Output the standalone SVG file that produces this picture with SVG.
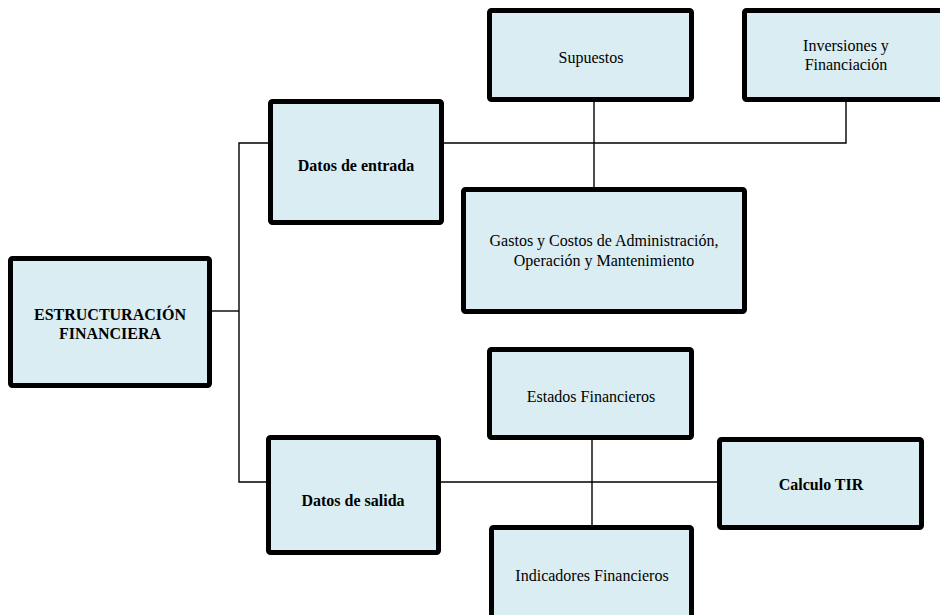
<svg xmlns="http://www.w3.org/2000/svg" width="940" height="615" viewBox="0 0 940 615">
<style>
.box{fill:#DAEDF3;stroke:#000;stroke-width:5;stroke-linejoin:round}
.t{font-family:"Liberation Serif","Times New Roman",serif;font-size:16px;fill:#000;text-anchor:middle}
.b{font-weight:bold}
.c{fill:none;stroke:#000;stroke-width:1.4}
</style>
<rect width="940" height="615" fill="#fff"/>
<g id="connectors">
<polyline class="c" points="212,311 239,311"/>
<polyline class="c" points="268,143 239,143 239,482 266,482"/>
<polyline class="c" points="444,143 846,143 846,102"/>
<line class="c" x1="594" y1="102" x2="594" y2="187"/>
<line class="c" x1="441" y1="482" x2="717" y2="482"/>
<line class="c" x1="592" y1="440" x2="592" y2="525"/>
</g>
<g id="estructuracion">
<rect class="box" x="10.5" y="258.5" width="199" height="127" rx="2"/>
<text class="t b" x="110" y="320">ESTRUCTURACIÓN</text>
<text class="t b" x="110" y="339">FINANCIERA</text>
</g>
<g id="datos-entrada">
<rect class="box" x="270.5" y="101.5" width="171" height="121" rx="2"/>
<text class="t b" x="356" y="171">Datos de entrada</text>
</g>
<g id="supuestos">
<rect class="box" x="489.5" y="10.5" width="202" height="89" rx="2"/>
<text class="t" x="591" y="63">Supuestos</text>
</g>
<g id="inversiones">
<rect class="box" x="744.5" y="10.5" width="205" height="89" rx="2"/>
<text class="t" x="846" y="51">Inversiones y</text>
<text class="t" x="846" y="70">Financiación</text>
</g>
<g id="gastos">
<rect class="box" x="463.5" y="189.5" width="281" height="122" rx="2"/>
<text class="t" x="604" y="246">Gastos y Costos de Administración,</text>
<text class="t" x="604" y="266">Operación y Mantenimiento</text>
</g>
<g id="datos-salida">
<rect class="box" x="268.5" y="437.5" width="170" height="115" rx="2"/>
<text class="t b" x="353" y="506">Datos de salida</text>
</g>
<g id="estados">
<rect class="box" x="489.5" y="349.5" width="202" height="88" rx="2"/>
<text class="t" x="591" y="402">Estados Financieros</text>
</g>
<g id="calculo-tir">
<rect class="box" x="719.5" y="439.5" width="202" height="88" rx="2"/>
<text class="t b" x="821" y="490">Calculo TIR</text>
</g>
<g id="indicadores">
<rect class="box" x="491.5" y="527.5" width="200" height="100" rx="2"/>
<text class="t" x="592" y="581">Indicadores Financieros</text>
</g>
</svg>
